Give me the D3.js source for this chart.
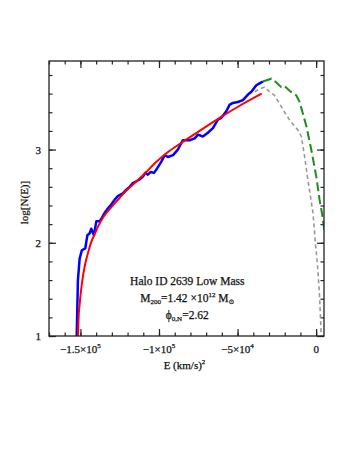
<!DOCTYPE html>
<html>
<head>
<meta charset="utf-8">
<script src="https://cdn.jsdelivr.net/npm/d3@7"></script>
<style>
  body { margin: 0; background: #fff; }
  text { font-family: "Liberation Serif", "DejaVu Serif", serif; fill: #111; stroke: #111; stroke-width: 0.25; }
</style>
</head>
<body>
<div id="chart"></div>
<script>
// Data: E in (km/s)^2, log N(E)
var bluePoints = [
  [-152400, 0.98], [-151600, 1.60], [-150500, 1.83], [-149100, 1.92], [-146900, 1.94],
  [-145600, 2.08], [-144200, 2.10], [-143100, 2.15], [-141400, 2.08], [-139900, 2.23],
  [-137800, 2.23], [-136300, 2.27], [-134600, 2.32], [-132500, 2.37], [-130400, 2.41],
  [-128300, 2.46], [-126200, 2.50], [-123000, 2.53], [-120800, 2.57], [-118700, 2.60],
  [-116600, 2.64], [-114400, 2.66], [-112300, 2.68], [-110200, 2.71], [-108700, 2.75],
  [-107100, 2.73], [-105300, 2.76], [-103200, 2.75], [-101100, 2.80], [-98500, 2.87],
  [-96400, 2.94], [-94300, 2.92], [-91100, 2.94], [-88000, 3.00], [-85800, 3.07],
  [-84800, 3.10], [-80500, 3.10], [-77300, 3.12], [-75200, 3.16], [-72100, 3.14],
  [-68900, 3.18], [-65700, 3.23], [-62500, 3.32], [-60300, 3.34], [-57200, 3.41],
  [-55100, 3.48], [-53000, 3.50], [-49800, 3.51], [-46600, 3.53], [-43400, 3.59],
  [-41200, 3.62], [-38100, 3.69], [-36000, 3.71], [-33900, 3.73]
];

var redPoints = [
  [-151800, 0.95], [-151600, 1.00], [-151200, 1.19], [-150500, 1.34], [-149600, 1.49],
  [-148400, 1.64], [-147000, 1.77], [-145200, 1.89], [-143100, 2.01], [-141000, 2.09],
  [-138900, 2.17], [-135300, 2.28], [-130400, 2.38], [-125100, 2.48], [-120800, 2.56],
  [-115500, 2.64], [-109200, 2.74], [-102800, 2.85], [-95300, 2.96], [-86900, 3.06],
  [-74200, 3.20], [-61400, 3.34], [-48700, 3.47], [-34700, 3.60]
];

var greenPoints = [
  [-33900, 3.73], [-28500, 3.76], [-25300, 3.72], [-22200, 3.67], [-20100, 3.68],
  [-16900, 3.63], [-12600, 3.58], [-10500, 3.51], [-6200, 3.25], [-3100, 3.00],
  [100, 2.71], [2200, 2.46], [3700, 2.32], [5400, 2.11]
];

var greyPoints = [
  [-39100, 3.62], [-36000, 3.65], [-32800, 3.67], [-29600, 3.62], [-26400, 3.58],
  [-23200, 3.49], [-20100, 3.40], [-16200, 3.30], [-11600, 3.21], [-9400, 3.14],
  [-7300, 2.92], [-5200, 2.67], [-2000, 2.32], [-500, 2.00], [1100, 1.71],
  [2200, 1.42], [2900, 1.14], [3300, 0.98]
];

var xTickValues = [-150000, -100000, -50000, 0];
var xTickMantissa = ["\u22121.5\u00d710", "\u22121\u00d710", "\u22125\u00d710", "0"];
var xTickExponent = ["5", "5", "4", ""];
var xMinorValues = d3.range(-170000, 5001, 10000);
var yTickValues = [1, 2, 3];
var yMinorValues = d3.range(1, 3.95, 0.2);

var svgWidth = 354;
var svgHeight = 458;
var margin = { top: 61, right: 30, bottom: 122, left: 49 };
var width = svgWidth - margin.left - margin.right;
var height = svgHeight - margin.top - margin.bottom;

var svg = d3.select("#chart")
  .append("svg")
  .attr("width", svgWidth)
  .attr("height", svgHeight)
  .style("background", "#fff");

var chartGroup = svg.append("g")
  .attr("transform", `translate(${margin.left}, ${margin.top})`);

var xScale = d3.scaleLinear().domain([-170000, 5000]).range([0, width]);
var yScale = d3.scaleLinear().domain([1, 3.95]).range([height, 0]);

svg.append("defs").append("clipPath").attr("id", "plotClip")
  .append("rect").attr("width", width).attr("height", height);

// ticks on all four sides, pointing inward
function tickAxis(axisFn, scale, values, size) {
  return axisFn(scale).tickValues(values).tickSize(size).tickFormat("");
}
var axes = [
  [tickAxis(d3.axisBottom, xScale, xMinorValues, -3.5), `translate(0, ${height})`],
  [tickAxis(d3.axisBottom, xScale, xTickValues, -7), `translate(0, ${height})`],
  [tickAxis(d3.axisTop, xScale, xMinorValues, -3.5), null],
  [tickAxis(d3.axisTop, xScale, xTickValues, -7), null],
  [tickAxis(d3.axisLeft, yScale, yMinorValues, -3.5), null],
  [tickAxis(d3.axisLeft, yScale, yTickValues, -7), null],
  [tickAxis(d3.axisRight, yScale, yMinorValues, -3.5), `translate(${width}, 0)`],
  [tickAxis(d3.axisRight, yScale, yTickValues, -7), `translate(${width}, 0)`]
];
axes.forEach(function(a) {
  var g = chartGroup.append("g").call(a[0]);
  if (a[1]) g.attr("transform", a[1]);
  g.select(".domain").remove();
  g.selectAll("line").attr("stroke", "#222").attr("stroke-width", 1.2);
});

var line = d3.line()
  .x(d => xScale(d[0]))
  .y(d => yScale(d[1]));

var plot = chartGroup.append("g").attr("clip-path", "url(#plotClip)");

plot.append("path").datum(greyPoints)
  .attr("d", line).attr("fill", "none")
  .attr("stroke", "#999").attr("stroke-width", 1.6)
  .attr("stroke-dasharray", "4,3");

plot.append("path").datum(greenPoints)
  .attr("d", line).attr("fill", "none")
  .attr("stroke", "#1e8c1e").attr("stroke-width", 2)
  .attr("stroke-dasharray", "9,4");

plot.append("path").datum(bluePoints)
  .attr("d", line).attr("fill", "none")
  .attr("stroke", "#0000ff").attr("stroke-width", 2.5)
  .attr("stroke-linejoin", "round");

plot.append("path").datum(redPoints)
  .attr("d", line.curve(d3.curveMonotoneX)).attr("fill", "none")
  .attr("stroke", "#ff0000").attr("stroke-width", 2);

// frame
chartGroup.append("rect")
  .attr("width", width).attr("height", height)
  .attr("fill", "none").attr("stroke", "#222").attr("stroke-width", 1.3);

// tick labels
var xLabels = chartGroup.selectAll(".xlab")
  .data(xTickValues)
  .enter()
  .append("text")
  .attr("class", "xlab")
  .attr("x", d => xScale(d))
  .attr("y", height + 17)
  .attr("text-anchor", "middle")
  .attr("font-size", 11);
xLabels.append("tspan").text((d, i) => xTickMantissa[i]);
xLabels.append("tspan")
  .attr("dy", -5).attr("font-size", 7)
  .text((d, i) => xTickExponent[i]);

chartGroup.selectAll(".ylab")
  .data(yTickValues)
  .enter()
  .append("text")
  .attr("class", "ylab")
  .attr("x", -8)
  .attr("y", d => yScale(d) + 4)
  .attr("text-anchor", "end")
  .attr("font-size", 11)
  .text(d => d);

// axis titles
chartGroup.append("text")
  .attr("transform", `translate(-21, ${height / 2 + 4}) rotate(-90)`)
  .attr("text-anchor", "middle")
  .attr("font-size", 11)
  .text("log[N(E)]");

var xTitle = chartGroup.append("text")
  .attr("x", width / 2 - 2)
  .attr("y", height + 33)
  .attr("text-anchor", "middle")
  .attr("font-size", 11);
xTitle.append("tspan").text("E (km/s)");
xTitle.append("tspan").attr("dy", -5).attr("font-size", 7).text("2");

// annotation
var note = chartGroup.append("g")
  .attr("transform", `translate(${xScale(-82000)}, 0)`);
note.append("text")
  .attr("y", 224).attr("text-anchor", "middle").attr("font-size", 11.5)
  .text("Halo ID 2639 Low Mass");
var m200 = note.append("text")
  .attr("y", 241).attr("text-anchor", "middle").attr("font-size", 11.5);
m200.append("tspan").text("M");
m200.append("tspan").attr("dy", 2).attr("font-size", 7).text("200");
m200.append("tspan").attr("dy", -2).text("=1.42 \u00d710");
m200.append("tspan").attr("dy", -5).attr("font-size", 7).text("12");
m200.append("tspan").attr("dy", 5).text(" M");
m200.append("tspan").attr("dy", 2).attr("font-size", 7).text("\u2299");
var phi = note.append("text")
  .attr("y", 258).attr("text-anchor", "middle").attr("font-size", 11.5);
phi.append("tspan").text("\u03d5");
phi.append("tspan").attr("dy", 2).attr("font-size", 7).text("0,N");
phi.append("tspan").attr("dy", -2).text("=2.62");
</script>
</body>
</html>
